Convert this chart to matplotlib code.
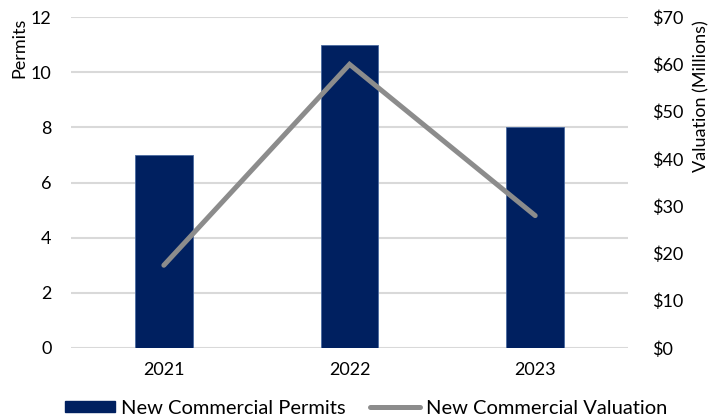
import matplotlib
matplotlib.use("Agg")
import matplotlib.pyplot as plt
from matplotlib.lines import Line2D
from matplotlib.patches import Patch

years = ["2021", "2022", "2023"]
permits = [7, 11, 8]
valuation = [17.5, 60, 28]
left_ticks = [0, 2, 4, 6, 8, 10, 12]
right_ticks = [0, 10, 20, 30, 40, 50, 60, 70]
right_labels = ["$0", "$10", "$20", "$30", "$40", "$50", "$60", "$70"]

plt.rcParams['font.family'] = ['Lato', 'DejaVu Sans']
fs = 13

fig = plt.figure(figsize=(7.18, 4.16), dpi=100)
ax = fig.add_axes([0.0989, 0.1635, 0.7758, 0.7955])
x = list(range(len(years)))
ax.bar(x, permits, width=0.31, color="#002060", edgecolor="#4a6aa0", linewidth=0.6, zorder=3)
ax.set_xlim(-0.5, 2.5)
ax.set_ylim(0, 12)
ax.set_yticks(left_ticks)
ax.set_xticks(x)
ax.set_xticklabels(years, fontsize=fs)
ax.tick_params(axis='y', labelsize=fs, length=0, pad=14)
ax.tick_params(axis='x', length=0, pad=10)
ax.grid(axis='y', color="#d9d9d9", linewidth=1.5, zorder=0)
for s in ax.spines.values():
    s.set_visible(False)
ax.set_ylabel("Permits", fontsize=fs, loc='top')
ax.yaxis.set_label_coords(-0.079, 0.997)

ax2 = ax.twinx()
ax2.plot(x, valuation, color="#8c8c8c", linewidth=3.6, solid_capstyle='round', solid_joinstyle='miter', zorder=4)
ax2.set_ylim(0, 70)
ax2.set_yticks(right_ticks)
ax2.set_yticklabels(right_labels)
ax2.tick_params(axis='y', labelsize=fs, length=0, pad=17)
for s in ax2.spines.values():
    s.set_visible(False)
ax2.set_ylabel("Valuation (Millions)", fontsize=fs, loc='top')
ax2.yaxis.set_label_coords(1.117, 0.991)

handles = [Patch(facecolor="#002060", edgecolor="#002060"),
           Line2D([0], [0], color="#8c8c8c", linewidth=3.6, solid_capstyle='round')]
fig.legend(handles, ["New Commercial Permits", "New Commercial Valuation"],
           loc='lower center', bbox_to_anchor=(0.51, -0.045), ncol=2, frameon=False,
           fontsize=14.5, handlelength=2.5, handletextpad=0.3, columnspacing=1.2,
           handleheight=0.5)

fig.savefig("out.png", dpi=100)
